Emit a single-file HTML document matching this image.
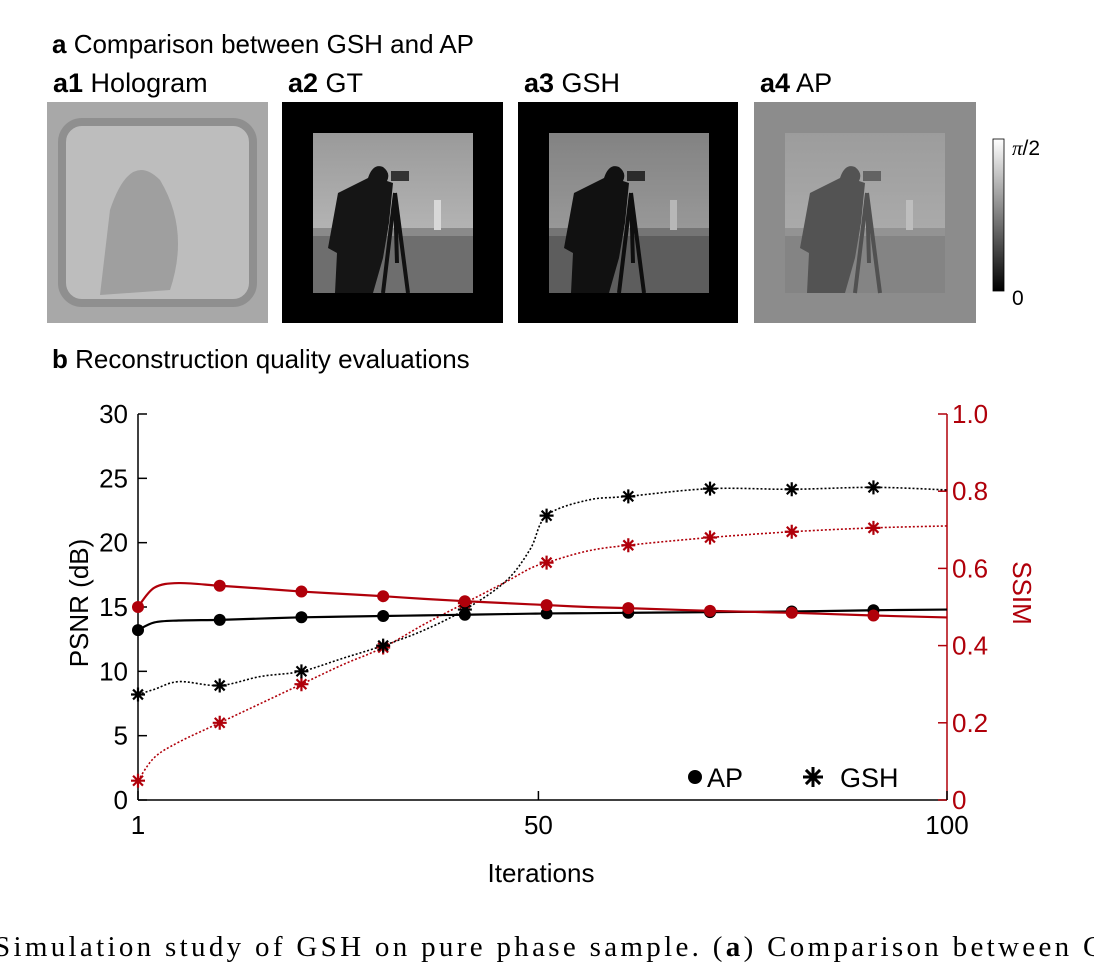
<!DOCTYPE html>
<html><head><meta charset="utf-8"><style>
body{margin:0;background:#fff;width:1094px;height:973px;overflow:hidden;position:relative;font-family:"Liberation Sans",sans-serif}
svg{position:absolute;left:0;top:0}
</style></head><body>
<svg width="1094" height="973" viewBox="0 0 1094 973">
<defs>
<linearGradient id="sky" x1="0" y1="0" x2="0" y2="1"><stop offset="0" stop-color="#9a9a9a"/><stop offset="1" stop-color="#c4c4c4"/></linearGradient>
<linearGradient id="cbar" x1="0" y1="0" x2="0" y2="1"><stop offset="0" stop-color="#fff"/><stop offset="1" stop-color="#000"/></linearGradient>
<g id="cam">
<rect x="0" y="0" width="160" height="160" fill="url(#sky)"/>
<rect x="0" y="100" width="160" height="60" fill="#6e6e6e"/>
<rect x="0" y="95" width="160" height="8" fill="#8a8a8a"/>
<rect x="121" y="67" width="7" height="30" fill="#d8d8d8"/>
<path d="M55 45 Q60 30 70 34 Q78 40 74 48 L80 50 L76 90 L70 125 L60 160 L22 160 L24 120 L15 115 L25 60 Z" fill="#151515"/>
<path d="M78 38 h18 v10 h-18z" fill="#333"/>
<path d="M82 60 L70 160 M82 60 L95 160 M82 60 L84 130" stroke="#111" stroke-width="4" fill="none"/>
</g>
</defs>

<text x="52" y="53" font-size="26"><tspan font-weight="bold">a</tspan> Comparison between GSH and AP</text>
<text x="53" y="92" font-size="27"><tspan font-weight="bold">a1</tspan> Hologram</text>
<text x="288" y="92" font-size="27"><tspan font-weight="bold">a2</tspan> GT</text>
<text x="524" y="92" font-size="27"><tspan font-weight="bold">a3</tspan> GSH</text>
<text x="760" y="92" font-size="27"><tspan font-weight="bold">a4</tspan> AP</text>

<g>
<rect x="47" y="102" width="221" height="221" fill="#a8a8a8"/>
<rect x="62" y="122" width="191" height="181" rx="20" fill="#bdbdbd" stroke="#8f8f8f" stroke-width="8"/>
<path d="M110 210 Q130 150 160 180 Q190 230 170 290 L100 295 Z" fill="#8a8a8a" opacity="0.6"/>
</g>
<g>
<rect x="282" y="102" width="221" height="221" fill="#000"/>
<use href="#cam" x="313" y="133"/>
</g>
<g>
<rect x="518" y="102" width="220" height="221" fill="#000"/>
<use href="#cam" x="549" y="133" opacity="0.85"/>
</g>
<g>
<rect x="754" y="102" width="222" height="221" fill="#8c8c8c"/>
<rect x="785" y="133" width="160" height="160" fill="#a0a0a0"/>
<use href="#cam" x="785" y="133" opacity="0.55"/>
</g>
<g>
<rect x="993" y="139" width="11" height="152" fill="url(#cbar)" stroke="#000" stroke-width="0.8"/>
<text x="1012" y="155" font-size="21" font-family="Liberation Serif" font-style="italic">π<tspan font-style="normal" font-family="Liberation Sans">/2</tspan></text>
<text x="1012" y="305" font-size="21">0</text>
</g>

<text x="52" y="368" font-size="26"><tspan font-weight="bold">b</tspan> Reconstruction quality evaluations</text>

<g id="chart"></g>

<text x="-6" y="956" font-size="29" font-family="Liberation Serif" textLength="1110" lengthAdjust="spacing">Simulation study of GSH on pure phase sample. (<tspan font-weight="bold">a</tspan>) Comparison between G</text>
</svg>
<script>
const iterations=[1,3,6,11,16,21,26,31,36,41,46,49,51,56,61,71,81,91,100];
const apPsnr=[13.2,13.8,13.95,14.0,14.1,14.2,14.25,14.3,14.35,14.4,14.45,14.48,14.5,14.52,14.55,14.6,14.65,14.75,14.8];
const apSsim=[0.50,0.55,0.562,0.555,0.548,0.54,0.534,0.528,0.521,0.515,0.51,0.507,0.505,0.5,0.497,0.49,0.485,0.478,0.473];
const gshPsnr=[8.2,8.6,9.2,8.9,9.6,10.0,11.0,12.0,13.2,14.8,17.0,19.5,22.1,23.3,23.6,24.2,24.15,24.3,24.1];
const gshSsim=[0.05,0.11,0.15,0.2,0.25,0.3,0.35,0.395,0.455,0.51,0.565,0.6,0.615,0.645,0.66,0.68,0.695,0.705,0.71];
const psnrTicks=[0,5,10,15,20,25,30];
const ssimTicks=[0,0.2,0.4,0.6,0.8,1.0];
const xTicks=[1,50,100];
const X0=138,X1=947,Y0=800,Y1=414;
const NS='http://www.w3.org/2000/svg';
const RED='#b0000a';
const g=document.getElementById('chart');
const sx=v=>X0+(v-1)/99*(X1-X0);
const syP=v=>Y0-v/30*(Y0-Y1);
const syS=v=>Y0-v*(Y0-Y1);
function mk(t,a){const e=document.createElementNS(NS,t);for(const k in a)e.setAttribute(k,a[k]);g.appendChild(e);return e;}
function smooth(xs,ys){let d='M'+xs[0]+' '+ys[0];for(let i=0;i<xs.length-1;i++){const p0=i?i-1:i,p3=i+2<xs.length?i+2:i+1;const c1x=xs[i]+(xs[i+1]-xs[p0])/6,c1y=ys[i]+(ys[i+1]-ys[p0])/6,c2x=xs[i+1]-(xs[p3]-xs[i])/6,c2y=ys[i+1]-(ys[p3]-ys[i])/6;d+=` C${c1x} ${c1y} ${c2x} ${c2y} ${xs[i+1]} ${ys[i+1]}`;}return d;}
function star(cx,cy,r,color,w){let d='';for(let k=0;k<4;k++){const a=k*Math.PI/4;d+=`M${cx-r*Math.cos(a)} ${cy-r*Math.sin(a)} L${cx+r*Math.cos(a)} ${cy+r*Math.sin(a)} `;}return mk('path',{d:d,stroke:color,'stroke-width':w,fill:'none'});}
function series(vals,sy,color,dash,name,marker){
  const xs=iterations.map(sx),ys=vals.map(sy);
  let p=mk('path',{d:smooth(xs,ys),fill:'none',stroke:color,'stroke-width':dash?1.6:2.2,'stroke-dasharray':dash?'2 2':'none'});
  
  for(let i=0;i<iterations.length;i++){
    if((iterations[i]-1)%10!==0||iterations[i]>91)continue;
    let m;
    if(marker==='dot'){m=mk('circle',{cx:xs[i],cy:ys[i],r:6,fill:color});}
    else{m=star(xs[i],ys[i],7,color,2.2);}
    
  }
}
mk('line',{x1:X0,y1:Y0,x2:X1,y2:Y0,stroke:'#000','stroke-width':1.5});
let la=mk('line',{x1:X0,y1:Y0,x2:X0,y2:Y1,stroke:'#000','stroke-width':1.5});
let ra=mk('line',{x1:X1,y1:Y0,x2:X1,y2:Y1,stroke:RED,'stroke-width':1.5});
psnrTicks.forEach(v=>{mk('line',{x1:X0,y1:syP(v),x2:X0+9,y2:syP(v),stroke:'#000','stroke-width':1.5});const t=mk('text',{x:X0-10,y:syP(v)+9,'font-size':26,'text-anchor':'end'});t.textContent=v;});
ssimTicks.forEach(v=>{mk('line',{x1:X1,y1:syS(v),x2:X1-9,y2:syS(v),stroke:RED,'stroke-width':1.5});const t=mk('text',{x:X1+5,y:syS(v)+9,'font-size':26,fill:RED});t.textContent=(v===0?'0':v.toFixed(1));});
xTicks.forEach(v=>{mk('line',{x1:sx(v),y1:Y0,x2:sx(v),y2:Y0-9,stroke:'#000','stroke-width':1.5});const t=mk('text',{x:sx(v),y:Y0+34,'font-size':26,'text-anchor':'middle'});t.textContent=v;});
let xt=mk('text',{x:541,y:882,'font-size':26,'text-anchor':'middle'});xt.textContent='Iterations';
let yt=mk('text',{x:0,y:0,'font-size':26,'text-anchor':'middle',transform:'translate(88,603) rotate(-90)'});yt.textContent='PSNR (dB)';
let y2=mk('text',{x:0,y:0,'font-size':26,'text-anchor':'middle',fill:RED,transform:'translate(1013,593) rotate(90)'});y2.textContent='SSIM';
series(gshSsim,syS,RED,true,'gsh-ssim','star');
series(gshPsnr,syP,'#000',true,'gsh-psnr','star');
series(apPsnr,syP,'#000',false,'ap-psnr','dot');
series(apSsim,syS,RED,false,'ap-ssim','dot');
let lc=mk('circle',{cx:695,cy:777,r:7,fill:'#000'});
let l1=mk('text',{x:707,y:787,'font-size':27});l1.textContent='AP';
let ls=star(813,777,10,'#000',3);
let l2=mk('text',{x:840,y:787,'font-size':27});l2.textContent='GSH';
</script>
</body></html>
